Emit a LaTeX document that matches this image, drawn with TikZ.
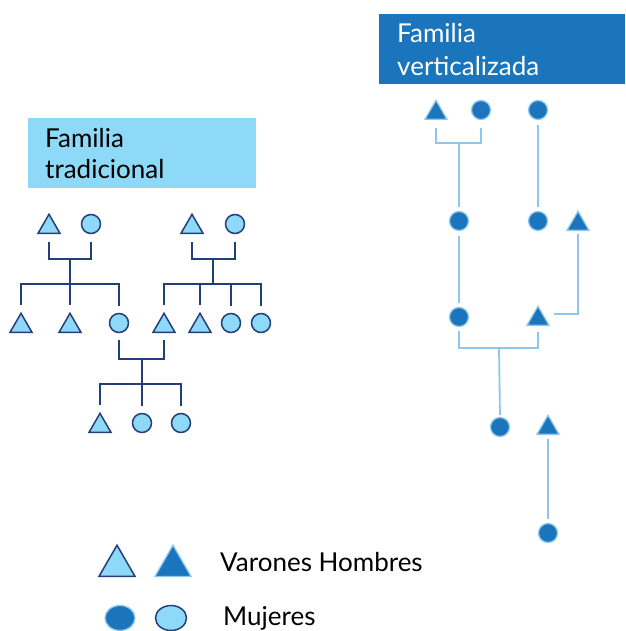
\documentclass[tikz,border=0pt]{standalone}
\usepackage{fontspec}
\setmainfont{Lato}
\usetikzlibrary{shapes.geometric, positioning}

\definecolor{celeste}{HTML}{8ED9F7}
\definecolor{marino}{HTML}{233F7A}
\definecolor{azul}{HTML}{1B75BC}
\definecolor{palido}{HTML}{8EC7EB}

\begin{document}
\begin{tikzpicture}[
   x=1pt, y=-1pt,
   varon/.style = {regular polygon, regular polygon sides=3, minimum size=25.4pt, inner sep=0pt},
   mujer/.style = {circle, minimum size=19pt, inner sep=0pt},
   trad/.style = {draw=marino, fill=celeste, line width=1.5pt},
   vert/.style = {draw=palido, fill=azul, line width=1.3pt},
   lazo/.style = {draw=marino, line width=1.8pt},
   rlazo/.style = {draw=palido, line width=1.8pt},
   titulo/.style = {anchor=north west, align=left, inner ysep=0pt,
                    font=\fontsize{26}{31}\selectfont}]
   \useasboundingbox (0,0) rectangle (625,631);

   % familia tradicional
   \node[titulo, fill=celeste, text=black, minimum width=228pt, minimum height=70pt,
         inner xsep=17pt, text width=194pt] (tt) at (28,118) {Familia\\tradicional};

   \node[varon, trad] (ta1) at (49,227) {};
   \node[mujer, trad] (ca1) at (91,224) {};
   \node[varon, trad] (ta2) at (192,227) {};
   \node[mujer, trad] (ca2) at (235,224) {};

   \node[varon, trad] (h1) at (21,326) {};
   \node[varon, trad] (h2) at (70,326) {};
   \node[mujer, trad] (h3) at (119,323) {};
   \node[varon, trad] (h4) at (164,326) {};
   \node[varon, trad] (h5) at (200,326) {};
   \node[mujer, trad] (h6) at (231,323) {};
   \node[mujer, trad] (h7) at (261,323) {};

   \node[varon, trad] (n1) at (100,426) {};
   \node[mujer, trad] (n2) at (142,423) {};
   \node[mujer, trad] (n3) at (181,423) {};

   \coordinate (ja) at (70,259);
   \coordinate (ka) at (70,284);
   \coordinate (jb) at (213,259);
   \coordinate (kb) at (213,284);
   \coordinate (jc) at (142,359);
   \coordinate (kc) at (142,384);

   \draw[lazo, shorten <=8pt, shorten >=8pt] (ta1.south) |- (ja) -| (ca1.south);
   \draw[lazo] (ja) -- (ka);
   \draw[lazo, shorten <=7pt, shorten >=7pt] (h1.north) |- (ka) -| (h3.north);
   \draw[lazo, shorten >=7pt] (ka) -- (h2.north);

   \draw[lazo, shorten <=8pt, shorten >=8pt] (ta2.south) |- (jb) -| (ca2.south);
   \draw[lazo] (jb) -- (kb);
   \draw[lazo, shorten <=7pt, shorten >=7pt] (h4.north) |- (kb) -| (h7.north);
   \draw[lazo, shorten >=7pt] (kb -| h5) -- (h5.north);
   \draw[lazo, shorten >=7pt] (kb -| h6) -- (h6.north);

   \draw[lazo, shorten <=7pt, shorten >=7pt] (h3.south) |- (jc) -| (h4.south);
   \draw[lazo] (jc) -- (kc);
   \draw[lazo, shorten <=7pt, shorten >=7pt] (n1.north) |- (kc) -| (n3.north);
   \draw[lazo, shorten >=7pt] (kc) -- (n2.north);

   % familia verticalizada
   \node[titulo, fill=azul, text=white, minimum width=246pt, minimum height=70pt,
         inner xsep=18pt, text width=210pt,
         font=\fontsize{26}{33}\selectfont] (tv) at (379,14) {Familia\\verticalizada};

   \node[varon, vert] (rt1) at (436,113) {};
   \node[mujer, vert] (rc1) at (481,110) {};
   \node[mujer, vert] (rc2) at (538,110) {};
   \node[mujer, vert] (rc3) at (459,221) {};
   \node[mujer, vert] (rc4) at (538,221) {};
   \node[varon, vert] (rt2) at (578,224) {};
   \node[mujer, vert] (rc5) at (459,317) {};
   \node[varon, vert] (rt3) at (538,319) {};
   \node[mujer, vert] (rc6) at (500,427) {};
   \node[varon, vert] (rt4) at (548,428) {};
   \node[mujer, vert] (rc7) at (548,533) {};

   \coordinate (rj1) at (459,143);
   \coordinate (rj2) at (499,348);

   \draw[rlazo, shorten <=8pt, shorten >=8pt] (rt1.south) |- (rj1) -| (rc1.south);
   \draw[rlazo, shorten >=4pt] (rj1) -- (rc3.north);
   \draw[rlazo, shorten <=5pt, shorten >=4pt] (rc2) -- (rc4);
   \draw[rlazo, shorten <=5pt, shorten >=4pt] (rc3) -- (rc5);
   \draw[rlazo, shorten <=3pt, shorten >=11pt] (rt2.south) |- (rt3.north east);
   \draw[rlazo, shorten <=4pt, shorten >=6pt] (rc5.south) |- (rj2) -| (rt3.south);
   \draw[rlazo, shorten >=2pt] (rj2) -- (rc6.north);
   \draw[rlazo, shorten <=4pt, shorten >=4pt] (rt4.south) -- (rc7.north);

   % leyenda
   \node[varon, trad, minimum size=41.6pt] (lt1) at (117,566) {};
   \node[varon, vert, minimum size=41.6pt] (lt2) at (173,566) {};
   \node[ellipse, vert, minimum width=30pt, minimum height=25pt] (le1) at (120,618) {};
   \node[ellipse, trad, minimum width=31pt, minimum height=25pt] (le2) at (171,618) {};
   \node[anchor=west, inner sep=0pt, font=\fontsize{26}{30}\selectfont] (lv) at (220,562) {Varones Hombres};
   \node[anchor=west, inner sep=0pt, font=\fontsize{26}{30}\selectfont] (lm) at (223,618) {Mujeres};
\end{tikzpicture}
\end{document}
